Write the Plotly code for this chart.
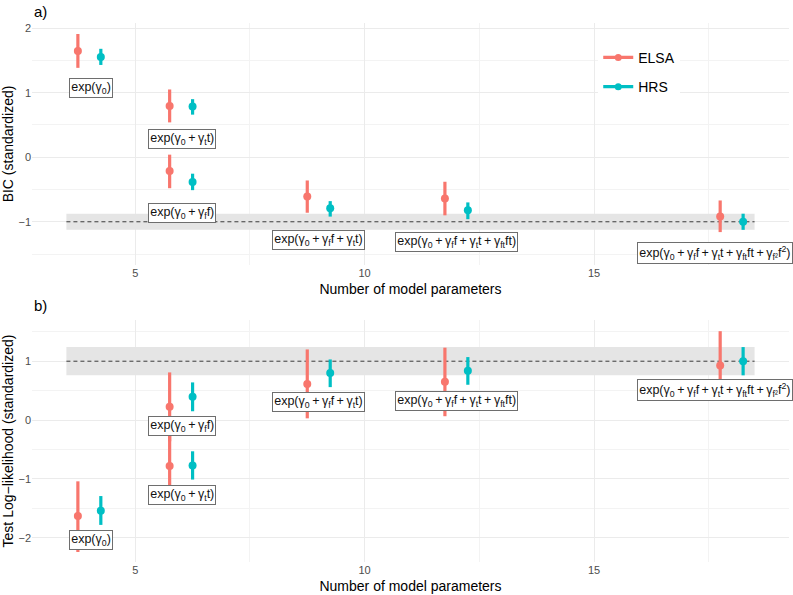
import plotly.graph_objects as go
from plotly.subplots import make_subplots

# ---------------- data ----------------
P = "\u2009+\u2009"
model_labels = [
    "exp(γ<sub>0</sub>)",
    "exp(γ<sub>0</sub>" + P + "γ<sub>t</sub>t)",
    "exp(γ<sub>0</sub>" + P + "γ<sub>f</sub>f)",
    "exp(γ<sub>0</sub>" + P + "γ<sub>f</sub>f" + P + "γ<sub>t</sub>t)",
    "exp(γ<sub>0</sub>" + P + "γ<sub>f</sub>f" + P + "γ<sub>t</sub>t" + P + "γ<sub>ft</sub>ft)",
    "exp(γ<sub>0</sub>" + P + "γ<sub>f</sub>f" + P + "γ<sub>t</sub>t" + P + "γ<sub>ft</sub>ft" + P + "γ<sub>f²</sub>f<sup>2</sup>)",
]
n_params = [4, 6, 6, 9, 12, 18]

# BIC (standardized)
bic_elsa = [1.646, 0.795, -0.215, -0.61, -0.64, -0.92]
bic_elsa_lo = [1.385, 0.54, -0.48, -0.86, -0.90, -1.16]
bic_elsa_hi = [1.91, 1.05, 0.04, -0.36, -0.38, -0.67]
bic_hrs = [1.554, 0.785, -0.385, -0.79, -0.82, -1.0]
bic_hrs_lo = [1.43, 0.66, -0.51, -0.92, -0.96, -1.125]
bic_hrs_hi = [1.68, 0.90, -0.255, -0.68, -0.70, -0.875]

# Test log-likelihood (standardized)
ll_elsa = [-1.63, -0.78, 0.225, 0.615, 0.65, 0.926]
ll_elsa_lo = [-2.24, -1.36, -0.36, 0.03, 0.066, 0.34]
ll_elsa_hi = [-1.04, -0.20, 0.81, 1.20, 1.23, 1.51]
ll_hrs = [-1.54, -0.77, 0.395, 0.80, 0.84, 1.0]
ll_hrs_lo = [-1.78, -1.01, 0.15, 0.56, 0.60, 0.76]
ll_hrs_hi = [-1.29, -0.53, 0.64, 1.03, 1.07, 1.24]

# label anchor positions (repelled labels)
label_x = [4.04, 6.02, 6.02, 9.0, 12.0, 17.63]
label_y_bic = [1.07, 0.29, -0.87, -1.29, -1.32, -1.48]
label_y_ll = [-2.04, -1.27, -0.10, 0.30, 0.33, 0.51]

# ---------------- style ----------------
DODGE = 0.25
COL_ELSA = "#F8766D"
COL_HRS = "#00BFC4"
FONT = "Liberation Sans"

fig = make_subplots(rows=2, cols=1)


def add_series(row, vals, lo, hi, offset, color):
    fig.add_trace(
        go.Scatter(
            x=[p + offset for p in n_params],
            y=vals,
            mode="markers",
            marker=dict(color=color, size=8),
            error_y=dict(
                type="data",
                symmetric=False,
                array=[h - v for h, v in zip(hi, vals)],
                arrayminus=[v - l for v, l in zip(vals, lo)],
                color=color,
                thickness=3.2,
                width=0,
            ),
            showlegend=False,
            hoverinfo="skip",
        ),
        row=row,
        col=1,
    )


add_series(1, bic_elsa, bic_elsa_lo, bic_elsa_hi, -DODGE, COL_ELSA)
add_series(1, bic_hrs, bic_hrs_lo, bic_hrs_hi, DODGE, COL_HRS)
add_series(2, ll_elsa, ll_elsa_lo, ll_elsa_hi, -DODGE, COL_ELSA)
add_series(2, ll_hrs, ll_hrs_lo, ll_hrs_hi, DODGE, COL_HRS)

# legend entries
for name, color, grp in [("ELSA", COL_ELSA, "a"), ("HRS", COL_HRS, "b")]:
    fig.add_trace(
        go.Scatter(
            x=[None], y=[None], mode="lines+markers", name=name,
            line=dict(color=color, width=3.2), marker=dict(color=color, size=7),
            legendgroup=grp,
        ),
        row=1, col=1,
    )

# reference band & dashed line (from the HRS full model)
for xr, yr, vals, lo, hi in [("x", "y", bic_hrs, bic_hrs_lo, bic_hrs_hi),
                             ("x2", "y2", ll_hrs, ll_hrs_lo, ll_hrs_hi)]:
    fig.add_shape(type="rect", xref=xr, yref=yr,
                  x0=min(n_params) - 0.5, x1=max(n_params) + 0.5,
                  y0=lo[-1], y1=hi[-1],
                  fillcolor="#E5E5E5", line=dict(width=0), layer="between")
    fig.add_shape(type="line", xref=xr, yref=yr,
                  x0=min(n_params) - 0.5, x1=max(n_params) + 0.5,
                  y0=vals[-1], y1=vals[-1],
                  line=dict(color="#3A3A3A", width=1, dash="4px,3px"), layer="between")

# model labels
for xr, yr, ys in [("x", "y", label_y_bic), ("x2", "y2", label_y_ll)]:
    for lab, lx, ly in zip(model_labels, label_x, ys):
        fig.add_annotation(
            x=lx, y=ly, xref=xr, yref=yr, text=lab, showarrow=False,
            font=dict(family=FONT, size=12.5, color="#111111"),
            bgcolor="white", bordercolor="#6E6E6E", borderwidth=1, borderpad=1.2,
            xanchor="center", yanchor="middle",
        )

# panel tags
fig.add_annotation(x=0, y=1.022, xref="paper", yref="paper", text="a)", showarrow=False,
                   xanchor="left", yanchor="middle", font=dict(family=FONT, size=15, color="black"))
fig.add_annotation(x=0, y=0.475, xref="paper", yref="paper", text="b)", showarrow=False,
                   xanchor="left", yanchor="middle", font=dict(family=FONT, size=15, color="black"))

axis_common = dict(
    showline=False, zeroline=False, ticks="",
    gridcolor="#EBEBEB", gridwidth=1,
    tickfont=dict(family=FONT, size=11, color="#4D4D4D"),
    title_font=dict(family=FONT, size=14, color="black"),
    automargin=False,
)

xr = [2.75, 19.25]
fig.update_xaxes(**axis_common, range=xr, tick0=0, dtick=5,
                 minor=dict(showgrid=True, dtick=2.5, tick0=0, gridcolor="#F3F3F3", gridwidth=0.7),
                 title_text="Number of model parameters", title_standoff=6)
fig.update_yaxes(**axis_common, tick0=0, dtick=1,
                 minor=dict(showgrid=True, dtick=0.5, tick0=0, gridcolor="#F3F3F3", gridwidth=0.7),
                 title_standoff=2)

fig.update_layout(
    width=793, height=595,
    margin=dict(l=32, r=4, t=23, b=33),
    plot_bgcolor="white", paper_bgcolor="white",
    font=dict(family=FONT),
    xaxis=dict(anchor="y"),
    yaxis=dict(domain=[0.551, 1.0], range=[-1.67, 2.08], title_text="BIC (standardized)"),
    xaxis2=dict(anchor="y2"),
    yaxis2=dict(domain=[0.0, 0.449], range=[-2.41, 1.70], title_text="Test Log−likelihood (standardized)"),
    legend=dict(x=0.748, y=0.965, xanchor="left", yanchor="top", bgcolor="white",
                font=dict(family=FONT, size=14, color="black"), tracegroupgap=8,
                itemwidth=30),
    showlegend=True,
)

fig.write_html("out.html", config={"displayModeBar": False},
               post_script="document.body.style.margin='0px';document.body.style.overflow='hidden';")
